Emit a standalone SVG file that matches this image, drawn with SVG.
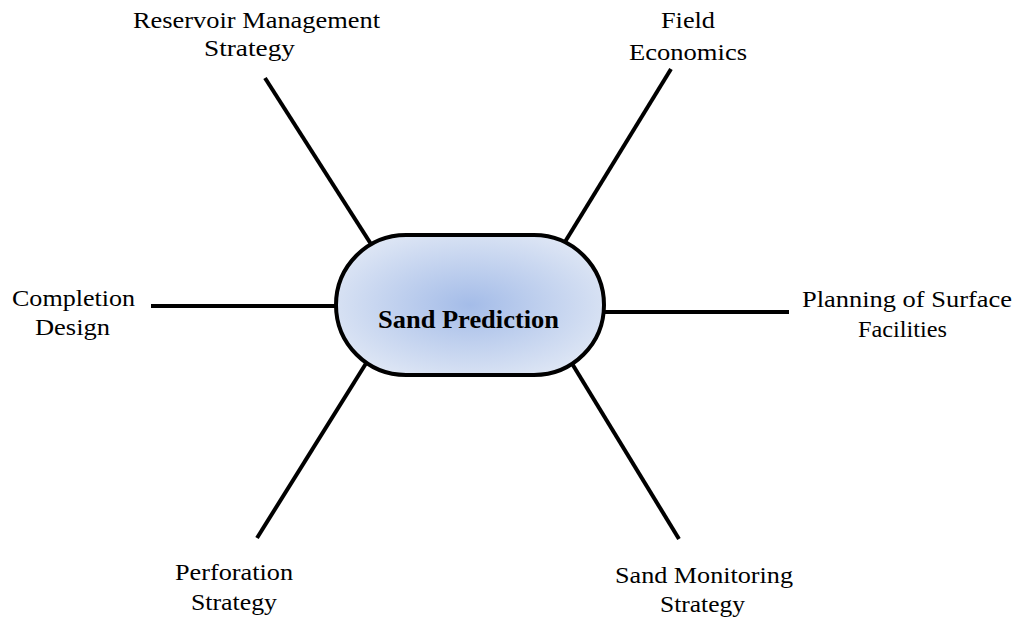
<svg xmlns="http://www.w3.org/2000/svg" width="1019" height="623" viewBox="0 0 1019 623">
<style>
.lbl{font-family:"Liberation Serif","Times New Roman",serif;font-size:23.5px;fill:#000}
.ctr{font-family:"Liberation Serif","Times New Roman",serif;font-size:26px;font-weight:bold;fill:#000}
.conn{stroke:#000;stroke-width:4;fill:none}
</style>
<defs>
<radialGradient id="g" cx="50%" cy="50%" r="58%">
<stop offset="0" stop-color="#a4bce8"/>
<stop offset="1" stop-color="#dfe7f5"/>
</radialGradient>
</defs>
<rect width="1019" height="623" fill="#fff"/>
<g id="connectors">
<line class="conn" x1="265" y1="78" x2="378" y2="255"/>
<line class="conn" x1="671" y1="69" x2="560" y2="250"/>
<line class="conn" x1="151" y1="306" x2="345" y2="306"/>
<line class="conn" x1="595" y1="312" x2="789" y2="312"/>
<line class="conn" x1="257" y1="538" x2="370" y2="357"/>
<line class="conn" x1="679" y1="539" x2="568" y2="357"/>
</g>
<g id="center">
<rect x="336" y="235" width="268" height="140" rx="70" ry="70" fill="url(#g)" stroke="#000" stroke-width="4"/>
<text class="ctr" x="378" y="327.5" textLength="181" lengthAdjust="spacingAndGlyphs">Sand Prediction</text>
</g>
<g id="reservoir">
<text class="lbl" x="133" y="28" textLength="247" lengthAdjust="spacingAndGlyphs">Reservoir Management</text>
<text class="lbl" x="204" y="56" textLength="91" lengthAdjust="spacingAndGlyphs">Strategy</text>
</g>
<g id="field">
<text class="lbl" x="661" y="28" textLength="54" lengthAdjust="spacingAndGlyphs">Field</text>
<text class="lbl" x="629" y="60" textLength="118" lengthAdjust="spacingAndGlyphs">Economics</text>
</g>
<g id="completion">
<text class="lbl" x="12" y="306" textLength="123" lengthAdjust="spacingAndGlyphs">Completion</text>
<text class="lbl" x="35" y="335" textLength="75" lengthAdjust="spacingAndGlyphs">Design</text>
</g>
<g id="planning">
<text class="lbl" x="802" y="306.5" textLength="210" lengthAdjust="spacingAndGlyphs">Planning of Surface</text>
<text class="lbl" x="858" y="336.5" textLength="89" lengthAdjust="spacingAndGlyphs">Facilities</text>
</g>
<g id="perforation">
<text class="lbl" x="175" y="580" textLength="118" lengthAdjust="spacingAndGlyphs">Perforation</text>
<text class="lbl" x="191" y="610" textLength="86" lengthAdjust="spacingAndGlyphs">Strategy</text>
</g>
<g id="monitoring">
<text class="lbl" x="615" y="583" textLength="178" lengthAdjust="spacingAndGlyphs">Sand Monitoring</text>
<text class="lbl" x="660" y="611.5" textLength="85" lengthAdjust="spacingAndGlyphs">Strategy</text>
</g>
</svg>
